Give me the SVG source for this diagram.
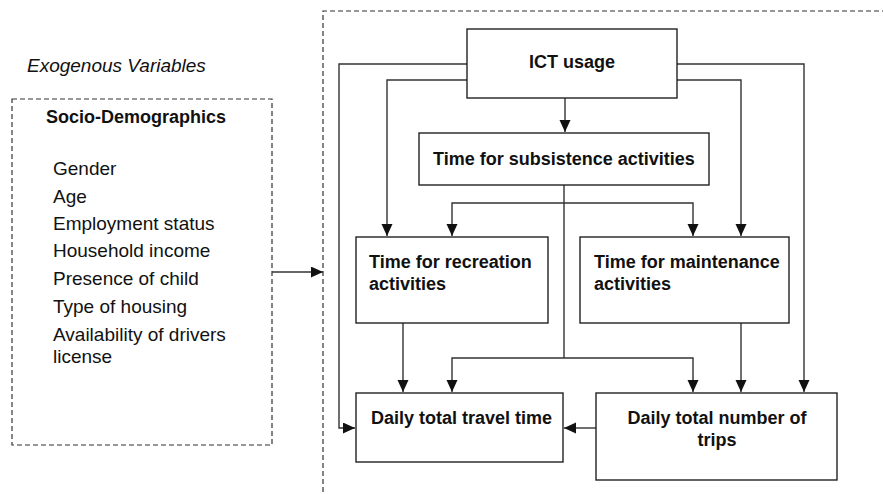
<svg xmlns="http://www.w3.org/2000/svg" width="883" height="494" viewBox="0 0 883 494">
<style>
.box{fill:#fff;stroke:#222;stroke-width:1.4}
.dash{fill:none;stroke:#333;stroke-width:1.2;stroke-dasharray:5 3}
.ln{fill:none;stroke:#333;stroke-width:1.4}
.b{font-family:"Liberation Sans",Arial,sans-serif;font-weight:bold;font-size:18px;fill:#111}
.r{font-family:"Liberation Sans",Arial,sans-serif;font-size:19px;fill:#111}
</style>
<defs>
<marker id="ah" markerUnits="userSpaceOnUse" markerWidth="13" markerHeight="12" refX="12" refY="5.5" orient="auto">
<path d="M0,0 L12,5.5 L0,11 z" fill="#111"/>
</marker>
</defs>
<rect width="883" height="494" fill="#fff"/>
<text x="27" y="72" class="r" font-style="italic" font-size="20.5px">Exogenous Variables</text>
<g id="frame">
<path class="dash" d="M323,500 L323,11 L890,11"/>
</g>
<g id="socio">
<rect class="dash" x="12" y="99" width="260" height="346"/>
<text x="46" y="123" class="b" font-size="19px">Socio-Demographics</text>
<text class="r" x="53" y="175">Gender</text>
<text class="r" x="53" y="203">Age</text>
<text class="r" x="53" y="230">Employment status</text>
<text class="r" x="53" y="257">Household income</text>
<text class="r" x="53" y="285">Presence of child</text>
<text class="r" x="53" y="313">Type of housing</text>
<text class="r" x="53" y="341">Availability of drivers</text>
<text class="r" x="53" y="363">license</text>
</g>
<g id="connectors">
<path class="ln" d="M272,272 L323,272" marker-end="url(#ah)"/>
<path class="ln" d="M467,64 L339,64 L339,428 L355,428" marker-end="url(#ah)"/>
<path class="ln" d="M467,80 L387,80 L387,236" marker-end="url(#ah)"/>
<path class="ln" d="M677,64 L804,64 L804,392" marker-end="url(#ah)"/>
<path class="ln" d="M677,80 L741,80 L741,236" marker-end="url(#ah)"/>
<path class="ln" d="M565,98 L565,132" marker-end="url(#ah)"/>
<path class="ln" d="M564,185 L564,358"/>
<path class="ln" d="M564,203 L452,203 L452,236" marker-end="url(#ah)"/>
<path class="ln" d="M564,203 L693,203 L693,236" marker-end="url(#ah)"/>
<path class="ln" d="M564,358 L452,358 L452,392" marker-end="url(#ah)"/>
<path class="ln" d="M564,358 L693,358 L693,392" marker-end="url(#ah)"/>
<path class="ln" d="M403,323 L403,392" marker-end="url(#ah)"/>
<path class="ln" d="M741,323 L741,392" marker-end="url(#ah)"/>
<path class="ln" d="M596,428 L564,428" marker-end="url(#ah)"/>
</g>
<g id="ict">
<rect class="box" x="467" y="29" width="210" height="69"/>
<text class="b" x="572" y="68" font-size="20px" text-anchor="middle">ICT usage</text>
</g>
<g id="subsistence">
<rect class="box" x="419" y="133" width="290" height="52"/>
<text class="b" x="564" y="165" text-anchor="middle">Time for subsistence activities</text>
</g>
<g id="recreation">
<rect class="box" x="356" y="237" width="192" height="86"/>
<text class="b" x="369" y="268">Time for recreation</text>
<text class="b" x="369" y="290">activities</text>
</g>
<g id="maintenance">
<rect class="box" x="580" y="237" width="209" height="86"/>
<text class="b" x="594" y="268">Time for maintenance</text>
<text class="b" x="594" y="290">activities</text>
</g>
<g id="traveltime">
<rect class="box" x="356" y="393" width="207" height="69"/>
<text class="b" x="371" y="424">Daily total travel time</text>
</g>
<g id="trips">
<rect class="box" x="596" y="393" width="241" height="87"/>
<text class="b" x="717" y="424" text-anchor="middle">Daily total number of</text>
<text class="b" x="717" y="446" text-anchor="middle">trips</text>
</g>
</svg>
